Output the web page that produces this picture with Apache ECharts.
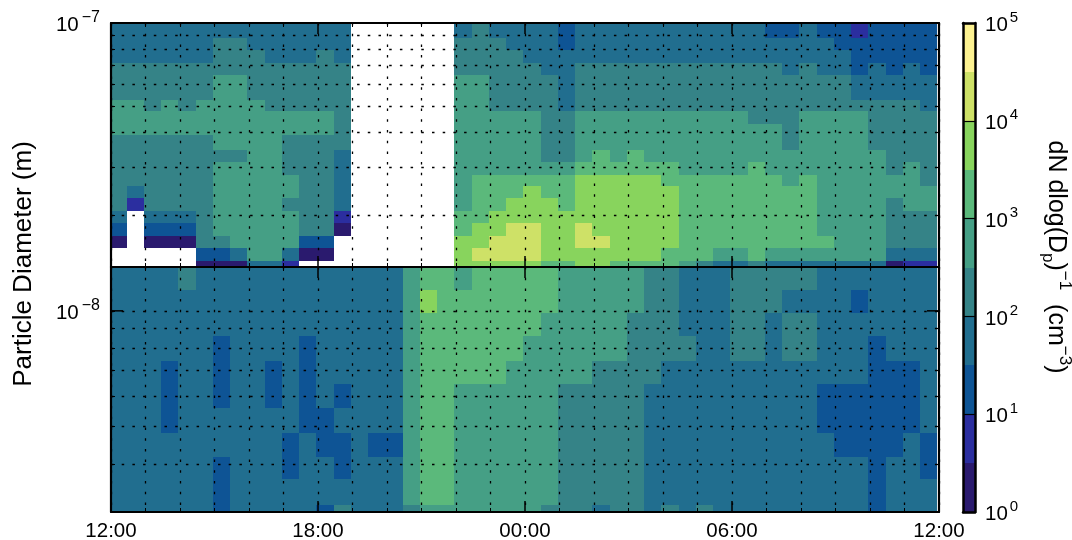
<!DOCTYPE html>
<html lang="en">
<head>
<meta charset="UTF-8">
<title>Particle size distribution</title>
<script src="https://cdn.jsdelivr.net/npm/echarts@6/dist/echarts.min.js"></script>
<style>
html, body { margin: 0; padding: 0; background: #fff; }
</style>
</head>
<body>
<div id="main" style="width:1072px;height:540px;"></div>
<script type="text/javascript">
// time axis, hours since midnight of first day
var timeTicks = [12, 18, 24, 30, 36];
var timeLabels = ['12:00', '18:00', '00:00', '06:00', '12:00'];
var scanStart = 11.95;
var scanStep = 0.5;

// bin edges (m), top to bottom
var upperEdges = [1e-7, 8.80e-8, 7.98e-8, 7.14e-8, 6.47e-8, 5.83e-8, 5.25e-8, 4.79e-8, 4.31e-8, 3.92e-8, 3.45e-8,
    3.13e-8, 2.80e-8, 2.55e-8, 2.32e-8, 2.07e-8, 1.88e-8, 1.68e-8, 1.53e-8, 1.37e-8, 1.30e-8];
var lowerEdges = [1.30e-8, 1.134e-8, 9.90e-9, 8.61e-9, 7.42e-9, 6.46e-9, 5.60e-9, 4.81e-9, 4.18e-9, 3.66e-9, 3.13e-9, 3.0e-9];

var upperGridValues = [9e-8, 8e-8, 7e-8, 6e-8, 5e-8, 4e-8, 3e-8, 2e-8];
var lowerGridValues = [1e-8, 9e-9, 8e-9, 7e-9, 6e-9, 5e-9, 4e-9];

// colour band per cell, one string per size bin, one char per half hour, '.' = no data
var upperRows = [
    '33333333333333 ...... 3433332 33333333333 2232212222',
    '33333344333333 ...... 4443332 333333333333333 222222',
    '33333344433343 ...... 4444 3333333333333333333 22222',
    '44444444444444 ...... 4444433 444444444444 3 4 33 2 3 2 3 2',
    '44444455444444 ...... 55 4444 3 4444444444444444 33333',
    '44444455444444 ...... 55 4444 3 4444444444444444 33333',
    '55454555544444 ...... 55 4444 3 44444444444444444444 3',
    '55555555555554 ...... 55555 44 5555555555 444 5555 4444',
    '55555555555554 ...... 55555 44 555555555555 4 5555 4444',
    '44444455554444 ...... 55555 44 555555555555 4 5555 4444',
    '44444444554443 ...... 55555 44 5 6 5 6 55555555555555 444',
    '44444455554443 ...... 5555555 666666 5555 6 5555555 4 5 4',
    '44444455555443 ...... 5 666666 77777 6666666 5 6 555555 4',
    '43444455555443 ...... 5 666 7 66 777777 66666666 5555555',
    '41444455554443 ...... 5 66 777 6 777777 66666666 5555 4 55',
    '3.333455555441 ...... 66 77777777777 66666666 5555 444',
    '2.222455555440 ...... 6 77 88 77 8 77777 66666666 5555 444',
    '0.00044555522. ...... 77 888 77 88 7777 666666666 555 444',
    '.....22355300. ...... 7 8888 7777777 666 55 6 5555555 333',
    '.....000331... ...... 77777 66 77 6666 5 4 33 4 3333333 0 11'
];
var lowerRows = [
    '3333 4 33333333333 3 5 66 5 66666 55555 4 4 333 44444 3333333',
    '33333333333333333 5 7 6666666 55555 44 333 444 33 33 2 3333',
    '33333333333333333 5 6666666 55555 444 333 44 3 44 3333333',
    '333333 2 3333 2 33333 5 666666 555555 44 44 33 44 3 44 333 2 333',
    '333 2 33 2 33 2 3 2 33333 5 66666 55555 4444 333333333333 222 3',
    '333 2 33 2 33 2 3 2 3 2 333 5 66 555555 44444 3333333333 222222 3',
    '333 2 3333333 22 3333 5 66 555555 44444 3333333333 222222 3',
    '3333333333 2 3 22 3 22 5 66 555555 44444 33333333333 2222 3 2',
    '333333 2 333 2 33 2 333 5 66 555555 44444 3333333333333 2 33 2',
    '333333 2 3333333333 5 66 555555 44444 3333333333333 2 333',
    '333333 2 33333 2 4 333 4 55 55555 444 3 44 3 4 3 4 333333333 2 333'
];

// ten colour bands, two per decade of dN dlog(Dp)^-1
var bandEdges = [1, 3.16, 10, 31.6, 100, 316, 1000, 3160, 10000, 31600, 100000];
var bandColors = ['#2a1a6e', '#2b2e9f', '#0e5495', '#216e8f', '#358387', '#459f85', '#5bb97b', '#88d45d', '#cee167', '#fdf291'];

var fontName = '"Liberation Sans", Arial, sans-serif';

function buildCells(rows, edges) {
    var cells = [];
    rows.forEach(function (row, r) {
        var chars = row.replace(/ /g, '');
        for (var k = 0; k < chars.length; k++) {
            if (chars[k] === '.') continue;
            cells.push([scanStart + k * scanStep, scanStart + (k + 1) * scanStep, edges[r + 1], edges[r], +chars[k]]);
        }
    });
    return cells;
}

function renderCell(params, api) {
    var p0 = api.coord([api.value(0), api.value(3)]);
    var p1 = api.coord([api.value(1), api.value(2)]);
    // snap to whole pixels so neighbouring cells leave no seam
    var x0 = Math.round(p0[0]), y0 = Math.round(p0[1]);
    var shape = echarts.graphic.clipRectByRect(
        { x: x0, y: y0, width: Math.round(p1[0]) - x0, height: Math.round(p1[1]) - y0 },
        { x: params.coordSys.x, y: params.coordSys.y, width: params.coordSys.width, height: params.coordSys.height }
    );
    if (!shape) return;
    return { type: 'rect', shape: shape, style: { fill: bandColors[api.value(4)] } };
}

function renderMajorTick(params, api) {
    var y = api.coord([12, api.value(0)])[1];
    var cs = params.coordSys;
    var st = { stroke: '#000', lineWidth: 1.5 };
    return {
        type: 'group',
        children: [
            { type: 'line', shape: { x1: cs.x, y1: y, x2: cs.x + 12, y2: y }, style: st },
            { type: 'line', shape: { x1: cs.x + cs.width - 12, y1: y, x2: cs.x + cs.width, y2: y }, style: st }
        ]
    };
}

var powerRich = {
    b: { fontFamily: fontName, fontSize: 20.5, color: '#000', verticalAlign: 'bottom', lineHeight: 26 },
    s: { fontFamily: fontName, fontSize: 15, color: '#000', verticalAlign: 'top', lineHeight: 26, padding: [0, 0, 8, 2] }
};
var sizeRich = {
    b: powerRich.b,
    s: { fontFamily: fontName, fontSize: 16, color: '#000', verticalAlign: 'top', lineHeight: 26, padding: [0, 0, 8, 3] }
};
function powerLabel(v) {
    var e = Math.round(Math.log10(v));
    return '{b|10}{s|' + (e < 0 ? '\u2212' + (-e) : e) + '}';
}

var dotted = { color: '#000', width: 1.3, type: [2.5, 8.2] };

function timeAxis(gridIndex, position, showLabel) {
    return {
        type: 'value', gridIndex: gridIndex, position: position, min: 12, max: 36, interval: 6, z: 10,
        axisLine: { show: true, onZero: false, lineStyle: { color: '#000', width: 2.2 } },
        axisTick: { show: true, inside: true, length: 11, lineStyle: { color: '#000', width: 1.5 } },
        minorTick: { show: true, splitNumber: 6, length: 4, lineStyle: { color: '#000', width: 1 } },
        splitLine: { show: position === 'bottom', lineStyle: dotted },
        minorSplitLine: { show: position === 'bottom', lineStyle: dotted },
        axisLabel: {
            show: showLabel, margin: 9, fontFamily: fontName, fontSize: 20.5, color: '#000',
            showMinLabel: true, showMaxLabel: true,
            formatter: function (v) { return timeLabels[timeTicks.indexOf(v)]; }
        }
    };
}

function sizeAxis(gridIndex, position, lo, hi, gridValues, labelValues) {
    return {
        type: 'log', logBase: 10, gridIndex: gridIndex, position: position, min: lo, max: hi, z: 10,
        axisLine: { show: true, onZero: false, lineStyle: { color: '#000', width: 2.2 } },
        axisTick: { show: true, inside: true, length: 4, customValues: gridValues, lineStyle: { color: '#000', width: 1 } },
        splitLine: { show: position === 'left', lineStyle: dotted },
        minorTick: { show: false },
        axisLabel: {
            show: !!labelValues, margin: 11, customValues: labelValues || [], rich: sizeRich,
            showMinLabel: true, showMaxLabel: true, formatter: powerLabel
        }
    };
}

var bandCells = bandColors.map(function (c, i) { return [0, 1, bandEdges[i], bandEdges[i + 1], i]; });

var myChart = echarts.init(document.getElementById('main'));

var option = {
    animation: false,
    backgroundColor: '#fff',
    grid: [
        { left: 111, width: 828, top: 23, height: 244, outerBoundsMode: 'none' },
        { left: 111, width: 828, top: 267, height: 245, outerBoundsMode: 'none' },
        { left: 963, width: 12, top: 23, height: 489, outerBoundsMode: 'none' }
    ],
    xAxis: [
        timeAxis(0, 'bottom', false),
        timeAxis(0, 'top', false),
        timeAxis(1, 'bottom', true),
        timeAxis(1, 'top', false),
        {
            type: 'value', gridIndex: 2, position: 'bottom', min: 0, max: 1, z: 10,
            axisLine: { show: true, onZero: false, lineStyle: { color: '#000', width: 2.5 } },
            axisTick: { show: false }, axisLabel: { show: false }, splitLine: { show: false }
        },
        {
            type: 'value', gridIndex: 2, position: 'top', min: 0, max: 1, z: 10,
            axisLine: { show: true, onZero: false, lineStyle: { color: '#000', width: 2.5 } },
            axisTick: { show: false }, axisLabel: { show: false }, splitLine: { show: false }
        }
    ],
    yAxis: [
        sizeAxis(0, 'left', 1.3e-8, 1e-7, upperGridValues, [1e-7]),
        sizeAxis(0, 'right', 1.3e-8, 1e-7, upperGridValues),
        sizeAxis(1, 'left', 3e-9, 1.3e-8, lowerGridValues, [1e-8]),
        sizeAxis(1, 'right', 3e-9, 1.3e-8, lowerGridValues),
        {
            type: 'log', logBase: 10, gridIndex: 2, position: 'right', min: 1, max: 100000, z: 10,
            axisLine: { show: true, onZero: false, lineStyle: { color: '#000', width: 2.5 } },
            axisTick: { show: false },
            splitLine: { show: true, lineStyle: { color: '#000', width: 1.2 } },
            axisLabel: { margin: 10, rich: powerRich, showMinLabel: true, showMaxLabel: true, formatter: powerLabel }
        },
        {
            type: 'log', logBase: 10, gridIndex: 2, position: 'left', min: 1, max: 100000, z: 10,
            axisLine: { show: true, onZero: false, lineStyle: { color: '#000', width: 2.5 } },
            axisTick: { show: false }, axisLabel: { show: false }, splitLine: { show: false }
        }
    ],
    series: [
        {
            type: 'custom', xAxisIndex: 0, yAxisIndex: 0, renderItem: renderCell, silent: true,
            encode: { x: [0, 1], y: [2, 3] }, data: buildCells(upperRows, upperEdges)
        },
        {
            type: 'custom', xAxisIndex: 2, yAxisIndex: 2, renderItem: renderCell, silent: true,
            encode: { x: [0, 1], y: [2, 3] }, data: buildCells(lowerRows, lowerEdges)
        },
        {
            type: 'custom', xAxisIndex: 2, yAxisIndex: 2, renderItem: renderMajorTick, silent: true, z: 12,
            encode: { y: 0 }, data: [[1e-8]]
        },
        {
            type: 'custom', xAxisIndex: 4, yAxisIndex: 4, renderItem: renderCell, silent: true,
            encode: { x: [0, 1], y: [2, 3] }, data: bandCells
        }
    ],
    graphic: [
        {
            type: 'text', x: 24, y: 264, rotation: Math.PI / 2, silent: true,
            style: { text: 'Particle Diameter (m)', font: '26px ' + fontName, fill: '#000', textAlign: 'center', textVerticalAlign: 'middle' }
        },
        {
            type: 'text', x: 1056, y: 257, rotation: -Math.PI / 2, silent: true,
            style: {
                text: '{n|dN dlog(D}{l|p}{n|)}{h|\u22121}{n|  (cm}{h|\u22123}{n|)}',
                textAlign: 'center', textVerticalAlign: 'middle',
                rich: {
                    n: { fontFamily: fontName, fontSize: 25, fill: '#000', verticalAlign: 'middle', lineHeight: 34 },
                    l: { fontFamily: fontName, fontSize: 17, fill: '#000', verticalAlign: 'bottom', lineHeight: 34 },
                    h: { fontFamily: fontName, fontSize: 17, fill: '#000', verticalAlign: 'top', lineHeight: 34 }
                }
            }
        }
    ]
};
myChart.setOption(option);
</script>
</body>
</html>
